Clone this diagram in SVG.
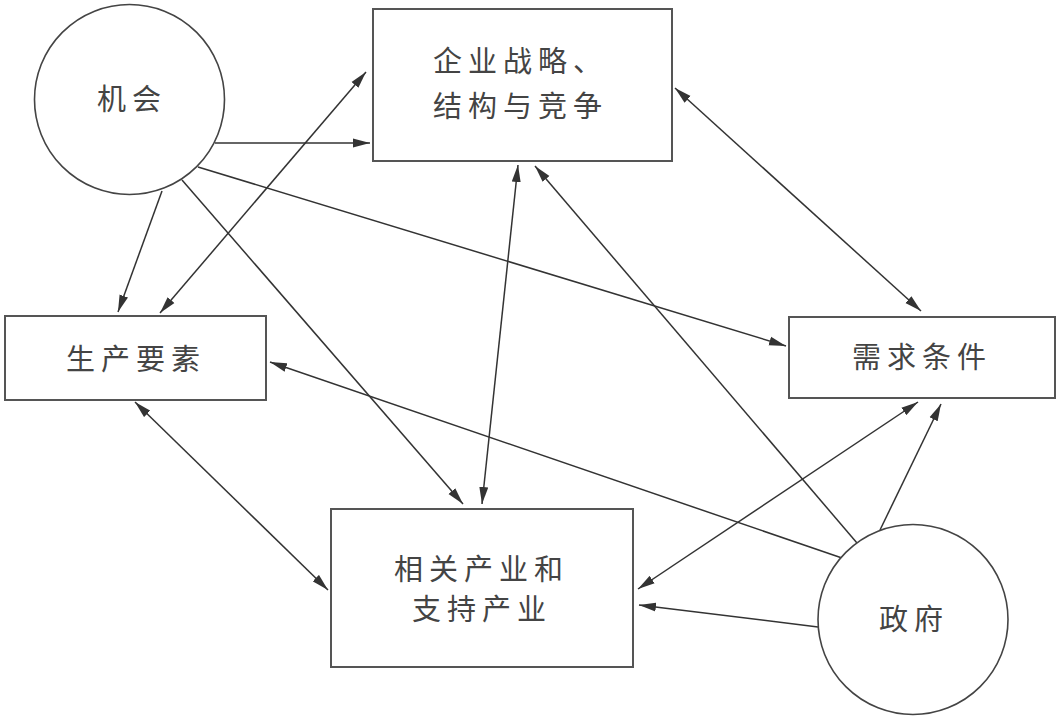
<svg xmlns="http://www.w3.org/2000/svg" width="1058" height="717" viewBox="0 0 1058 717">
<style>
.box{fill:#fff;stroke:#555;stroke-width:2}
.circ{fill:#fff;stroke:#444;stroke-width:1.6}
.lbl{font-family:"Noto Sans CJK SC","Noto Sans CJK JP",sans-serif;font-size:29px;fill:#444;letter-spacing:6px}
.ln{stroke:#333;stroke-width:1.5;fill:none}
.one{marker-end:url(#ah)}
.two{marker-start:url(#ah);marker-end:url(#ah)}
</style>
<defs>
<marker id="ah" markerUnits="userSpaceOnUse" markerWidth="19" markerHeight="10" refX="17" refY="4.5" orient="auto-start-reverse" viewBox="0 0 19 9">
<path d="M0,0 L17,4.5 L0,9 z" fill="#333"/>
</marker>
</defs>
<rect width="1058" height="717" fill="#fff"/>
<g id="connectors">
<line class="ln one" x1="215" y1="143" x2="370" y2="143"/>
<line class="ln one" x1="162" y1="191" x2="118" y2="312"/>
<line class="ln two" x1="160" y1="313" x2="366" y2="72"/>
<line class="ln one" x1="198" y1="167" x2="786" y2="346"/>
<line class="ln one" x1="182" y1="180" x2="463" y2="504"/>
<line class="ln two" x1="518" y1="165" x2="482" y2="504"/>
<line class="ln one" x1="857" y1="543" x2="535" y2="166"/>
<line class="ln two" x1="675" y1="88" x2="921" y2="311"/>
<line class="ln one" x1="842" y1="558" x2="270" y2="362"/>
<line class="ln two" x1="135" y1="402" x2="328" y2="590"/>
<line class="ln two" x1="918" y1="402" x2="638" y2="589"/>
<line class="ln one" x1="880" y1="530" x2="941" y2="404"/>
<line class="ln one" x1="818" y1="627" x2="639" y2="605"/>
</g>
<g id="chance">
<circle class="circ" cx="129.5" cy="99.5" r="95"/>
<text class="lbl" x="97" y="110">机会</text>
</g>
<g id="strategy">
<rect class="box" x="373" y="9" width="299" height="152"/>
<text class="lbl" x="433" y="72">企业战略、</text>
<text class="lbl" x="433" y="117">结构与竞争</text>
</g>
<g id="factors">
<rect class="box" x="5" y="316" width="261" height="84"/>
<text class="lbl" x="66" y="370">生产要素</text>
</g>
<g id="demand">
<rect class="box" x="789" y="317" width="266" height="81"/>
<text class="lbl" x="852" y="368">需求条件</text>
</g>
<g id="related">
<rect class="box" x="331" y="509" width="302" height="158"/>
<text class="lbl" x="394" y="580">相关产业和</text>
<text class="lbl" x="412" y="620">支持产业</text>
</g>
<g id="government">
<circle class="circ" cx="913" cy="619.5" r="95"/>
<text class="lbl" x="879" y="630">政府</text>
</g>
</svg>
